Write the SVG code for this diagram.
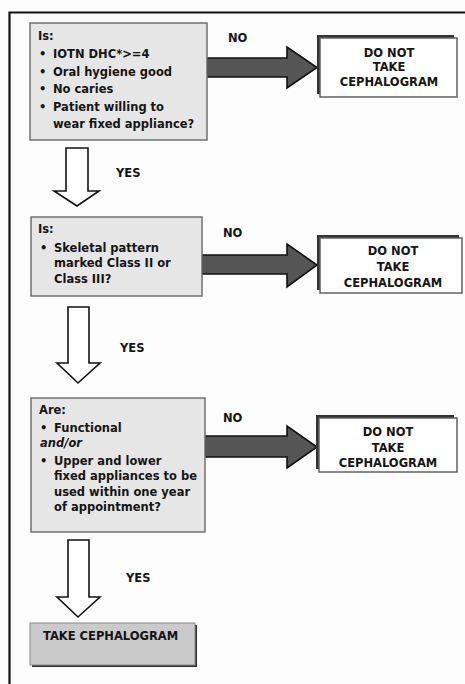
<svg xmlns="http://www.w3.org/2000/svg" width="465" height="684" viewBox="0 0 465 684">
<style>
text{font-family:"DejaVu Sans","Liberation Sans",sans-serif;font-weight:bold;font-size:11.5px;fill:#151515}
.q{fill:#e6e6e6;stroke:#707070;stroke-width:1.5}
.d{fill:#fff;stroke:#606060;stroke-width:1.5}
.sh{fill:#333}
.no{fill:#555;stroke:#111;stroke-width:1.6;stroke-linejoin:miter}
.yes{fill:#fff;stroke:#111;stroke-width:1.6}
.c{text-anchor:middle}
.it{font-style:italic}
</style>
<rect width="465" height="684" fill="#fdfdfd"/>
<polyline points="9.5,684 9.5,12.5 465,12.5" fill="none" stroke="#111" stroke-width="2.2"/>
<g id="connectors">
<polygon class="no" points="207,58 287,58 287,47 317,67.5 287,88 287,77 207,77"/>
<polygon class="no" points="202,255 287,255 287,244 317,265 287,287 287,274 202,274"/>
<polygon class="no" points="205,436 287,436 287,426 317,447 287,468 287,457 205,457"/>
<polygon class="yes" points="66,148 88,148 88,191 99,191 77,206 54,191 66,191"/>
<polygon class="yes" points="68,307 89,307 89,363 100,363 78,383 57,363 68,363"/>
<polygon class="yes" points="68,540 89,540 89,597 100,597 78,617 57,597 68,597"/>
<text x="228" y="42">NO</text>
<text x="223" y="237">NO</text>
<text x="223" y="422">NO</text>
<text x="116" y="177">YES</text>
<text x="120" y="352">YES</text>
<text x="126" y="582">YES</text>
</g>
<g id="q1">
<rect class="q" x="30" y="23" width="177" height="117"/>
<text x="38" y="40">Is:</text>
<text x="39" y="58">•</text><text x="53" y="58">IOTN DHC*&gt;=4</text>
<text x="39" y="76">•</text><text x="53" y="76">Oral hygiene good</text>
<text x="39" y="93">•</text><text x="53" y="93">No caries</text>
<text x="39" y="111">•</text><text x="53" y="111">Patient willing to</text>
<text x="53" y="128">wear fixed appliance?</text>
</g>
<g id="d1">
<rect class="sh" x="317" y="35" width="137" height="59"/>
<rect class="d" x="320" y="38" width="137" height="59"/>
<text class="c" x="389" y="57">DO NOT</text>
<text class="c" x="389" y="71">TAKE</text>
<text class="c" x="389" y="86">CEPHALOGRAM</text>
</g>
<g id="q2">
<rect class="q" x="31" y="217" width="171" height="79"/>
<text x="38" y="233">Is:</text>
<text x="40" y="252">•</text><text x="54" y="252">Skeletal pattern</text>
<text x="54" y="267">marked Class II or</text>
<text x="54" y="283">Class III?</text>
</g>
<g id="d2">
<rect class="sh" x="317" y="235" width="142" height="55"/>
<rect class="d" x="320" y="238" width="142" height="55"/>
<text class="c" x="393" y="255">DO NOT</text>
<text class="c" x="393" y="271">TAKE</text>
<text class="c" x="393" y="287">CEPHALOGRAM</text>
</g>
<g id="q3">
<rect class="q" x="31" y="398" width="174" height="134"/>
<text x="39" y="414">Are:</text>
<text x="40" y="432">•</text><text x="54" y="432">Functional</text>
<text class="it" x="40" y="447">and/or</text>
<text x="40" y="465">•</text><text x="54" y="465">Upper and lower</text>
<text x="54" y="480">fixed appliances to be</text>
<text x="54" y="496">used within one year</text>
<text x="54" y="511">of appointment?</text>
</g>
<g id="d3">
<rect class="sh" x="316" y="415" width="138" height="54"/>
<rect class="d" x="319" y="418" width="138" height="54"/>
<text class="c" x="388" y="436">DO NOT</text>
<text class="c" x="388" y="452">TAKE</text>
<text class="c" x="388" y="467">CEPHALOGRAM</text>
</g>
<g id="take">
<rect class="sh" x="32" y="625" width="165" height="42"/>
<rect x="30" y="623" width="165" height="42" fill="#cacaca" stroke="#8a8a8a" stroke-width="1"/>
<text x="43" y="640">TAKE CEPHALOGRAM</text>
</g>
</svg>
